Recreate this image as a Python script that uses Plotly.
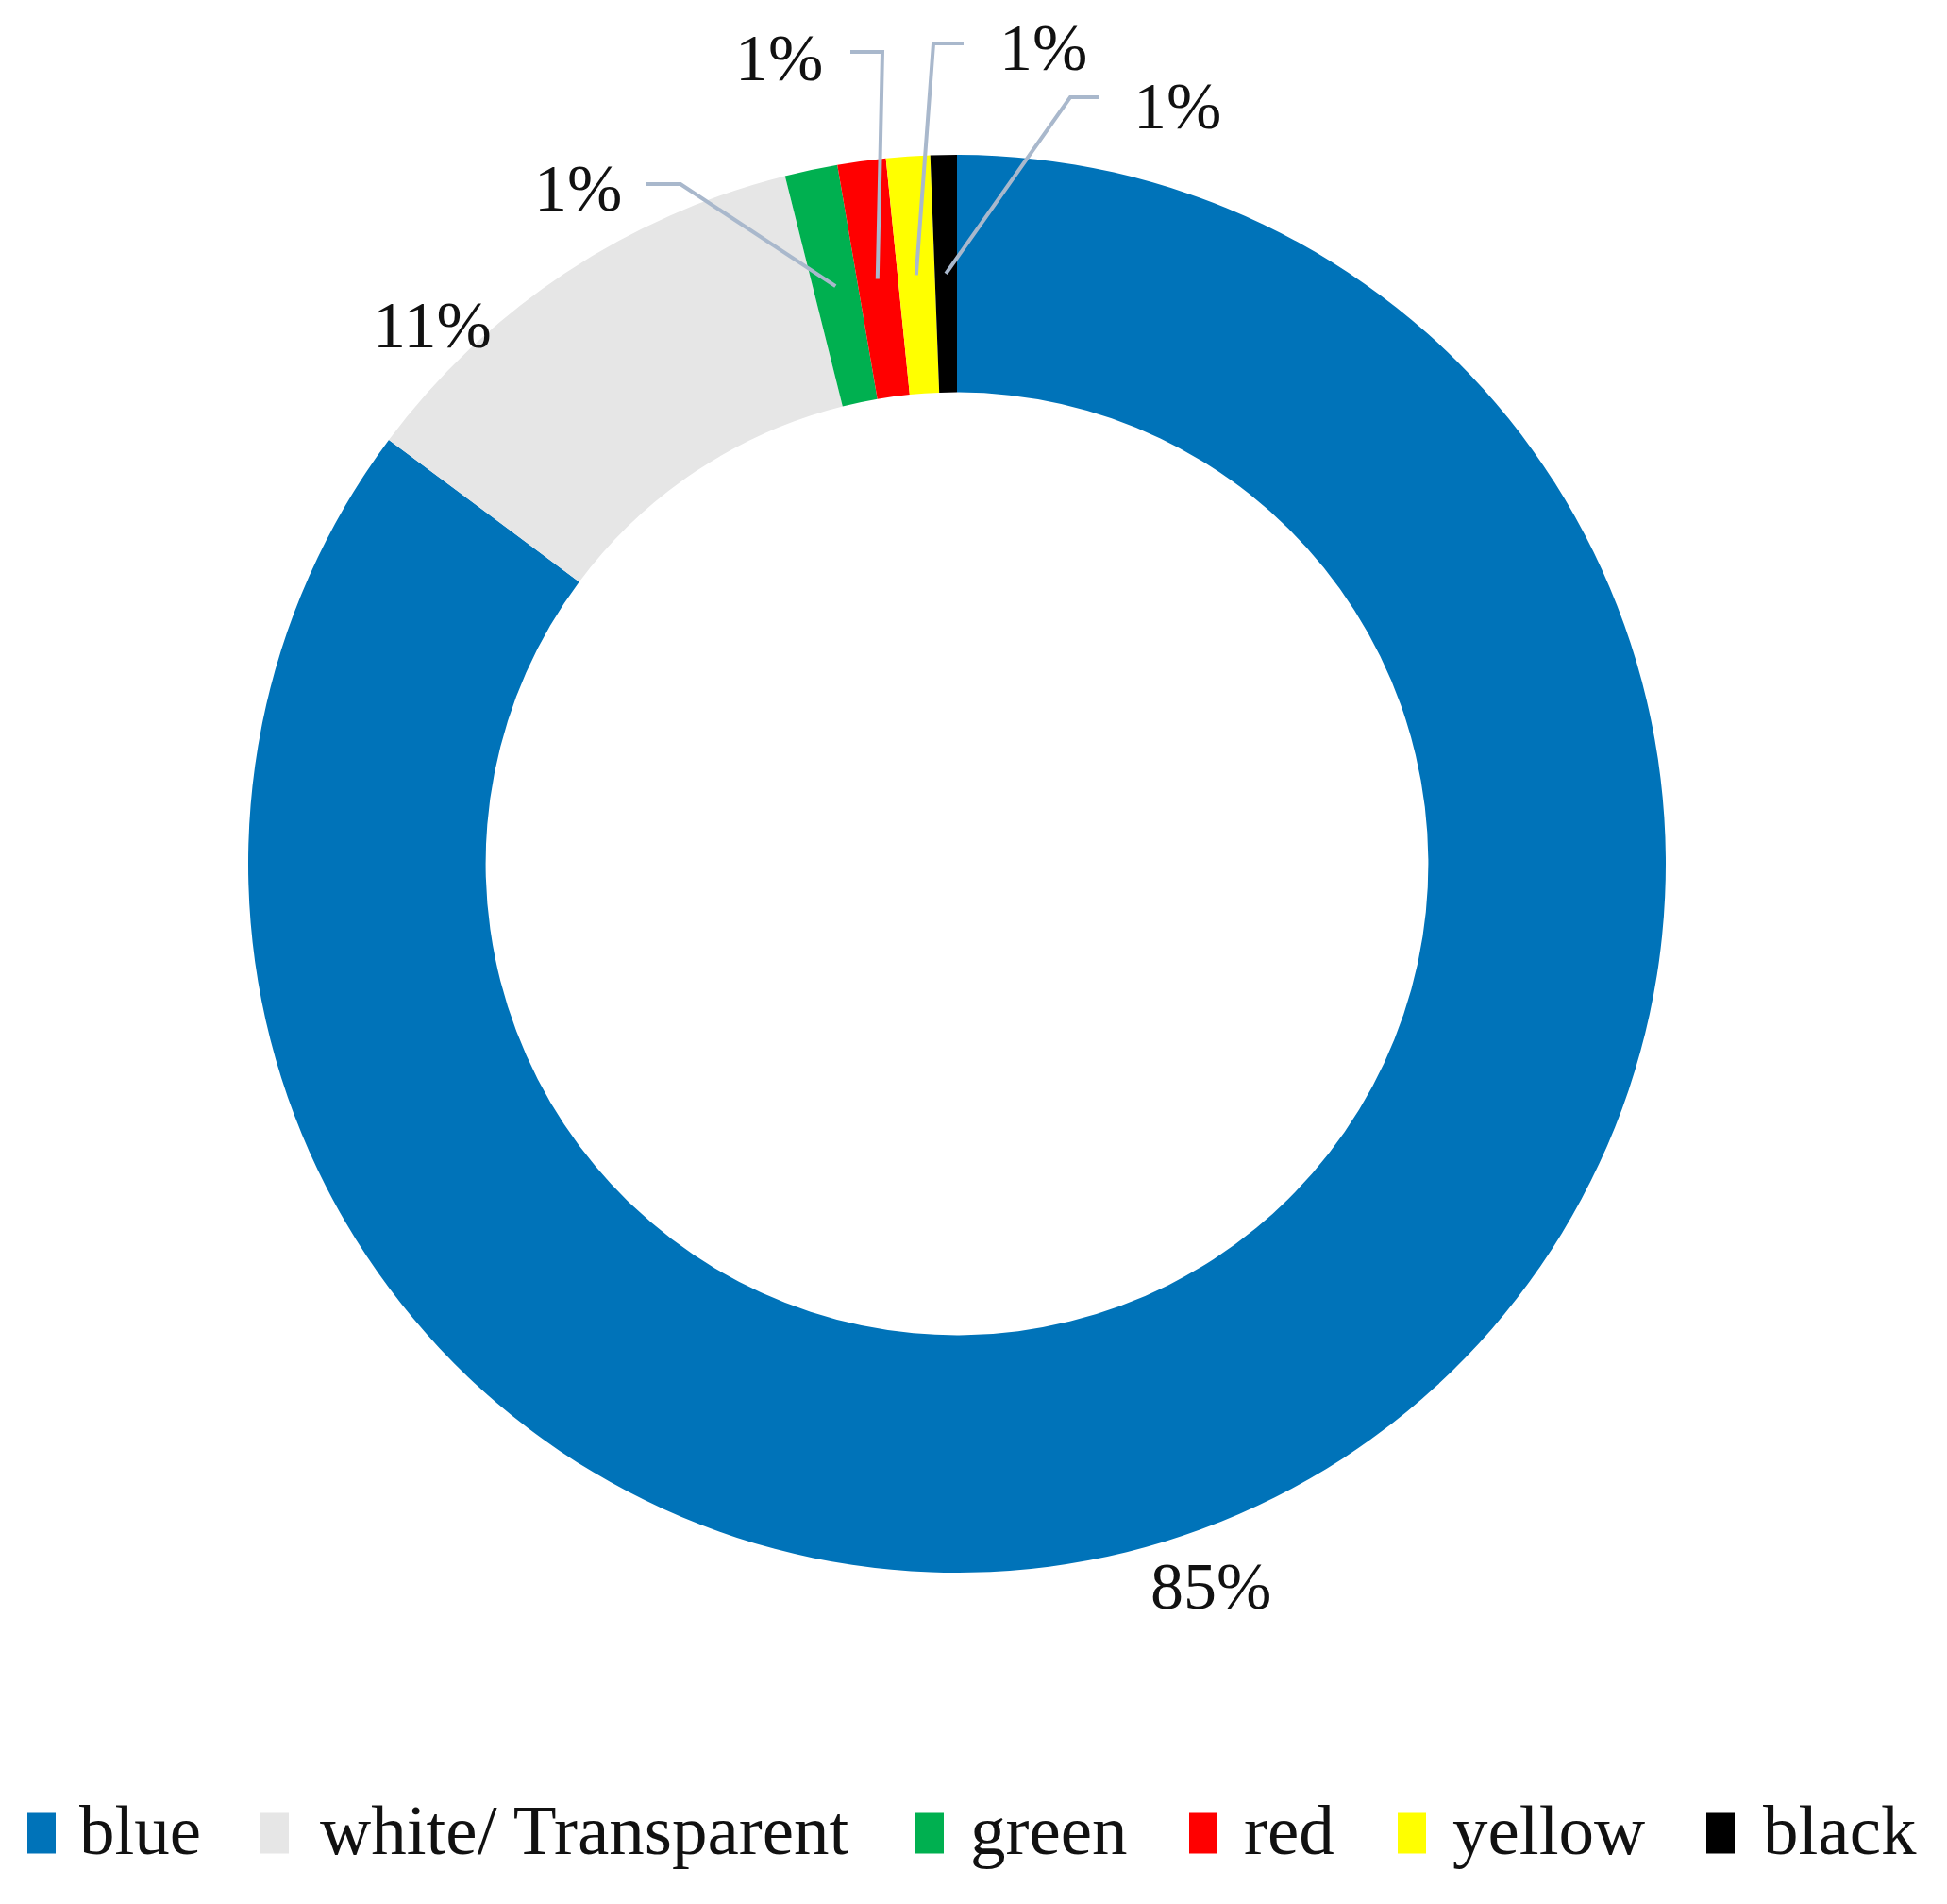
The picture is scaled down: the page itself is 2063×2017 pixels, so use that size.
import math
import plotly.graph_objects as go

# ---- data ----
categories = ["blue", "white/ Transparent", "green", "red", "yellow", "black"]
values = [85.2, 10.9, 1.2, 1.1, 1.0, 0.6]
colors = ["#0073B9", "#E6E6E6", "#00B050", "#FF0000", "#FFFF00", "#000000"]

# ---- layout constants (pixels) ----
W, H = 2063, 2017
CX, CY = 1014, 915      # pie centre (from top-left)
R = 751                 # outer radius
HOLE = 0.665
FONT = "Liberation Serif, Times New Roman, serif"
LEADER = "#A9B8CC"

total = sum(values)
pcts = [f"{round(100 * v / total)}%" for v in values]


def px(x):
    return x / W


def py(y):
    return 1 - y / H


fig = go.Figure(
    go.Pie(
        labels=categories,
        values=values,
        marker=dict(colors=colors, line=dict(width=0)),
        hole=HOLE,
        sort=False,
        direction="clockwise",
        rotation=0,
        textinfo="none",
        hoverinfo="label+percent",
        showlegend=False,
        domain=dict(x=[px(CX - R), px(CX + R)], y=[py(CY + R), py(CY - R)]),
    )
)

# mid-ring point of each slice (for leader lines)
rm = R * (1 + HOLE) / 2
mids = []
cum = 0
for v in values:
    th = 2 * math.pi * (cum + v / 2) / total
    mids.append((CX + rm * math.sin(th), CY - rm * math.cos(th)))
    cum += v

# data label positions (pixels) and leader starts/elbows
label_pos = [(1283, 1680), (458, 345), (612, 200), (825, 62), (1105, 50), (1247, 112)]
leaders = {2: [(685, 195), (721, 195)],
           3: [(901, 55), (935, 55)],
           4: [(1021, 46), (989, 46)],
           5: [(1164, 103), (1134, 103)]}

annotations = []
shapes = []
for i, (lx, ly) in enumerate(label_pos):
    annotations.append(dict(
        x=px(lx), y=py(ly), xref="paper", yref="paper",
        text=pcts[i], showarrow=False, xanchor="center", yanchor="middle",
        font=dict(family=FONT, size=70, color="#111111"),
    ))
for i, pts in leaders.items():
    path_pts = pts + [mids[i]]
    d = "M " + " L ".join(f"{px(x):.5f},{py(y):.5f}" for x, y in path_pts)
    shapes.append(dict(type="path", path=d, xref="paper", yref="paper",
                       line=dict(color=LEADER, width=4)))

# legend (swatch + label)
leg_sw_x = [29, 276, 970, 1260, 1481, 1808]
leg_tx_x = [82, 337, 1026, 1316, 1537, 1866]
leg_y = 1942
sw_w, sw_h = 30, 43
for i, name in enumerate(categories):
    shapes.append(dict(type="rect", xref="paper", yref="paper",
                       x0=px(leg_sw_x[i]), x1=px(leg_sw_x[i] + sw_w),
                       y0=py(leg_y + sw_h / 2), y1=py(leg_y - sw_h / 2),
                       fillcolor=colors[i], line=dict(width=0)))
    annotations.append(dict(
        x=px(leg_tx_x[i]), y=py(leg_y - 4), xref="paper", yref="paper",
        text=name, showarrow=False, xanchor="left", yanchor="middle",
        font=dict(family=FONT, size=75, color="#111111"),
    ))

fig.update_layout(
    width=W, height=H,
    margin=dict(l=0, r=0, t=0, b=0),
    paper_bgcolor="white", plot_bgcolor="white",
    annotations=annotations, shapes=shapes,
    showlegend=False,
)

fig.write_html("out.html",
               config={"displayModeBar": False},
               post_script="document.body.style.margin='0';document.body.style.padding='0';")
